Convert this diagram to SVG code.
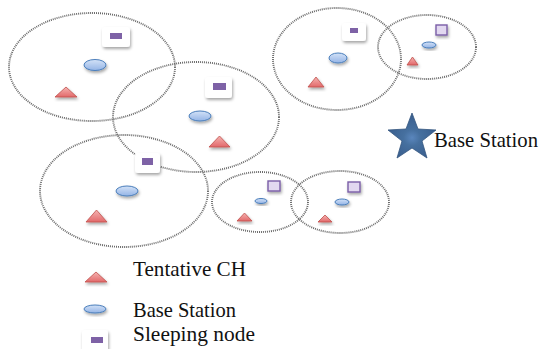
<svg xmlns="http://www.w3.org/2000/svg" width="542" height="349" viewBox="0 0 542 349">
  <defs>
    <filter id="shadow" x="-50%" y="-50%" width="200%" height="200%">
      <feDropShadow dx="1" dy="2" stdDeviation="1.4" flood-color="#000" flood-opacity="0.35"/>
    </filter>
    <linearGradient id="triFill" x1="0" y1="0" x2="0" y2="1">
      <stop offset="0" stop-color="#f5b3b1"/>
      <stop offset="1" stop-color="#e2686a"/>
    </linearGradient>
    <linearGradient id="ovalFill" x1="0" y1="0" x2="0" y2="1">
      <stop offset="0" stop-color="#d3e2f7"/>
      <stop offset="1" stop-color="#94b4e6"/>
    </linearGradient>
    <radialGradient id="starFill" cx="0.5" cy="0.55" r="0.5">
      <stop offset="0" stop-color="#5a86bd"/>
      <stop offset="0.35" stop-color="#46709f"/>
      <stop offset="1" stop-color="#3a5f8f"/>
    </radialGradient>
  </defs>
  <style>
    .range { fill: none; stroke: #6a6a6a; stroke-width: 1.9; stroke-dasharray: 1 1; }
    .ch { fill: url(#triFill); stroke: #c0504d; stroke-width: 0.8; filter: url(#shadow); }
    .bs { fill: url(#ovalFill); stroke: #4a7ebb; stroke-width: 1; filter: url(#shadow); }
    .card { fill: #ffffff; filter: url(#shadow); }
    .sleep { fill: #7e62a6; }
    .sleepBox { fill: #e2d8f0; stroke: #7b5ea7; stroke-width: 1.4; filter: url(#shadow); }
    .label { fill: #111; }
  </style>

  <!-- coverage ranges -->
  <g id="ranges">
    <ellipse class="range" cx="92" cy="67" rx="83" ry="54"/>
    <ellipse class="range" cx="196" cy="117" rx="83" ry="55"/>
    <ellipse class="range" cx="124" cy="191" rx="84" ry="56"/>
    <ellipse class="range" cx="260" cy="202" rx="48" ry="30"/>
    <ellipse class="range" cx="340" cy="202" rx="49" ry="31"/>
    <ellipse class="range" cx="337" cy="59" rx="64" ry="51"/>
    <ellipse class="range" cx="427" cy="47" rx="49" ry="32"/>
  </g>

  <!-- cluster 1 -->
  <g id="cluster1">
    <g id="sleep1"><rect class="card" x="102" y="27" width="28" height="20" rx="3"/><rect class="sleep" x="110" y="33" width="12" height="6"/></g>
    <g id="bs1"><ellipse class="bs" cx="95" cy="65" rx="11" ry="5.5"/></g>
    <g id="ch1"><polygon class="ch" points="66,87 77,97 55,97"/></g>
  </g>

  <!-- cluster 2 -->
  <g id="cluster2">
    <g id="sleep2"><rect class="card" x="205" y="77" width="27" height="21" rx="3"/><rect class="sleep" x="213" y="83" width="13" height="7"/></g>
    <g id="bs2"><ellipse class="bs" cx="200" cy="116" rx="11" ry="5"/></g>
    <g id="ch2"><polygon class="ch" points="219.5,136 230,147 209,147"/></g>
  </g>

  <!-- cluster 3 -->
  <g id="cluster3">
    <g id="sleep3"><rect class="card" x="135" y="153" width="25" height="20" rx="3"/><rect class="sleep" x="142" y="158" width="11" height="7"/></g>
    <g id="bs3"><ellipse class="bs" cx="127" cy="191" rx="11" ry="5"/></g>
    <g id="ch3"><polygon class="ch" points="96.5,210 107,222 86,222"/></g>
  </g>

  <!-- cluster 4 -->
  <g id="cluster4">
    <g id="sleep4"><rect class="sleepBox" x="268" y="181" width="12" height="10"/></g>
    <g id="bs4"><ellipse class="bs" cx="261" cy="201" rx="6" ry="2.5"/></g>
    <g id="ch4"><polygon class="ch" points="244.5,213 252,221 237,221"/></g>
  </g>

  <!-- cluster 5 -->
  <g id="cluster5">
    <g id="sleep5"><rect class="sleepBox" x="348" y="182" width="12" height="10"/></g>
    <g id="bs5"><ellipse class="bs" cx="342" cy="202" rx="7" ry="3"/></g>
    <g id="ch5"><polygon class="ch" points="325,215 332,222 318,222"/></g>
  </g>

  <!-- cluster 6 -->
  <g id="cluster6">
    <g id="sleep6"><rect class="card" x="342" y="23" width="24" height="18" rx="3"/><rect class="sleep" x="350" y="28" width="8" height="5"/></g>
    <g id="bs6"><ellipse class="bs" cx="338" cy="58" rx="9" ry="5"/></g>
    <g id="ch6"><polygon class="ch" points="316,77 324,87 308,87"/></g>
  </g>

  <!-- cluster 7 -->
  <g id="cluster7">
    <g id="sleep7"><rect class="sleepBox" x="436" y="25" width="11" height="10"/></g>
    <g id="bs7"><ellipse class="bs" cx="429" cy="45" rx="7" ry="3"/></g>
    <g id="ch7"><polygon class="ch" points="412.5,57 418,65 407,65"/></g>
  </g>

  <!-- sink -->
  <g id="sink">
    <polygon points="412,113 418,129 436,130 422,141 427,158 412,148 397,158 402,141 388,130 406,129" fill="url(#starFill)" stroke="#34557f" stroke-width="0.8"/>
    <text class="label" x="434" y="147" font-family="Liberation Serif" font-size="21" textLength="104" lengthAdjust="spacingAndGlyphs">Base Station</text>
  </g>

  <!-- legend -->
  <g id="legend">
    <g id="legend-ch">
      <polygon class="ch" points="96,272 107,282 85,282"/>
      <text class="label" x="133" y="276" font-family="Liberation Serif" font-size="22" textLength="113" lengthAdjust="spacingAndGlyphs">Tentative CH</text>
    </g>
    <g id="legend-bs">
      <ellipse class="bs" cx="95" cy="309" rx="11" ry="4"/>
      <text class="label" x="133" y="317" font-family="Liberation Serif" font-size="22" textLength="103" lengthAdjust="spacingAndGlyphs">Base Station</text>
    </g>
    <g id="legend-sleep">
      <rect class="card" x="82" y="330" width="26" height="24" rx="3"/>
      <rect class="sleep" x="91" y="337" width="12" height="6"/>
      <text class="label" x="133" y="341" font-family="Liberation Serif" font-size="22" textLength="122" lengthAdjust="spacingAndGlyphs">Sleeping node</text>
    </g>
  </g>
</svg>
